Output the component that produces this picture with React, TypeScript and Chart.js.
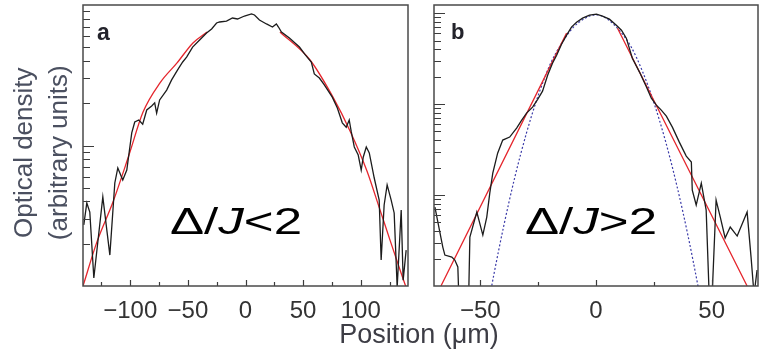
import React, { useEffect, useRef } from 'react';
import { Chart, registerables } from 'chart.js';

Chart.register(...registerables);

// ---------- Panel a ----------
const xTicksA = [-125, -100, -75, -50, -25, 0, 25, 50, 75, 100, 125];
const xTickLabelsA = ['', '−100', '', '−50', '', '0', '', '50', '', '100', ''];
const yTicksA = [0.1, 0.2, 0.3, 0.4, 0.5, 0.6, 0.7, 0.8, 0.9, 1, 2, 3, 4, 5, 6, 7, 8, 9, 10];

const posA = [-140.3, -137.7, -135.1, -131.6, -123.8, -117.7, -113.4, -110.8, -106.5, -103.0, -98.7, -96.1, -92.6, -89.2, -85.7, -81.4, -78.8, -77.1, -74.5, -68.4, -64.1, -58.9, -54.5, -51.1, -45.9, -39.8, -33.8, -29.4, -25.1, -22.5, -16.5, -11.3, -6.9, -0.9, 5.2, 7.8, 12.1, 18.2, 23.4, 26.8, 28.6, 31.2, 38.1, 46.8, 51.9, 57.1, 59.7, 64.1, 68.4, 75.3, 79.7, 84.0, 87.4, 90.0, 91.8, 94.4, 97.8, 100.4, 102.2, 104.8, 107.4, 111.7, 116.0, 117.7, 120.3, 122.9, 126.4, 129.0, 131.6, 134.2, 135.1, 136.8, 139.4];
const odA = [0.272, 0.390, 0.336, 0.114, 0.430, 0.166, 0.541, 0.692, 0.568, 0.669, 1.23, 1.47, 1.52, 1.42, 1.79, 1.91, 2.01, 1.70, 2.11, 2.48, 2.93, 3.45, 3.93, 4.26, 5.02, 5.64, 6.32, 6.75, 7.45, 7.57, 7.69, 8.08, 7.95, 8.35, 8.63, 8.49, 7.82, 7.33, 6.97, 7.33, 6.97, 6.42, 5.82, 5.02, 4.41, 3.93, 3.23, 3.02, 2.70, 2.21, 1.85, 1.45, 1.35, 1.52, 1.25, 0.976, 0.855, 0.669, 0.828, 0.976, 0.885, 0.587, 0.409, 0.153, 0.377, 0.524, 0.409, 0.331, 0.098, 0.250, 0.347, 0.110, 0.180];

const fitPosA = [-141.0, -128.9, -115.0, -101.1, -88.9, -74.2, -59.4, -45.6, -33.4, 0, 29.9, 56.0, 75.9, 90.7, 105.4, 116.7, 125.4, 134.1, 139.3];
const fitOdA = [0.100, 0.206, 0.396, 0.856, 1.73, 2.79, 3.87, 5.37, 6.42, null, 6.42, 4.06, 2.21, 1.27, 0.659, 0.348, 0.212, 0.130, 0.098];

// ---------- Panel b ----------
const xTicksB = [-50, -25, 0, 25, 50];
const xTickLabelsB = ['−50', '', '0', '', '50'];
const yTicksB = [0.1, 0.2, 0.3, 0.4, 0.5, 0.6, 0.7, 0.8, 0.9, 1, 2, 3, 4, 5, 6, 7, 8, 9, 10, 20, 30, 40, 50, 60, 70, 80, 90, 100];

const posB = [-69.6, -66.2, -65.3, -62.3, -61.0, -59.7, -59.3, -55.0, -54.5, -51.5, -48.9, -47.2, -45.9, -44.6, -42.5, -40.3, -37.3, -34.3, -32.1, -30.0, -27.4, -25.2, -23.1, -20.9, -18.8, -17.0, -14.9, -12.7, -10.6, -8.4, -5.8, -2.8, 0.2, 2.8, 5.8, 8.8, 11.0, 13.1, 15.7, 18.8, 21.8, 23.9, 26.1, 28.2, 30.4, 33.0, 36.0, 39.0, 41.2, 41.6, 43.3, 45.5, 47.6, 48.9, 50.2, 51.9, 53.7, 55.8, 58.0, 61.0, 65.3, 67.0, 68.3, 69.6];
const odB = [0.738, 0.268, 0.219, 0.208, 0.193, 0.162, 0.08, 0.08, 0.345, 0.650, 0.363, 0.573, 1.05, 1.74, 2.89, 4.02, 4.34, 5.45, 6.67, 7.96, 9.27, 11.3, 13.9, 20.8, 28.2, 34.5, 45.6, 57.3, 70.2, 79.6, 88.1, 95.0, 97.5, 92.7, 85.9, 73.8, 65.0, 53.1, 32.0, 22.5, 15.4, 11.6, 9.75, 8.59, 7.38, 5.58, 3.82, 2.68, 2.31, 1.13, 0.777, 1.35, 0.684, 0.08, 0.08, 0.881, 0.573, 0.337, 0.445, 0.354, 0.650, 0.208, 0.08, 0.150];

const expPosB = [-67.0, -12.7, 0, 9.3, 65.3];
const expOdB = [0.1, 60.3, null, 68.4, 0.1];

const gaussPosB = [-46, -44, -40, -35, -30, -25, -20, -15, -10, -5, 0, 5, 10, 15, 20, 25, 30, 35, 40, 44, 46];
const gaussOdB = [0.0748, 0.139, 0.441, 1.60, 4.85, 12.4, 26.7, 46.0, 69.0, 87.0, 96.0, 86.0, 65.0, 43.4, 23.2, 10.4, 3.94, 1.25, 0.334, 0.102, 0.054];

const FONT = "'Liberation Sans', Arial, Helvetica, sans-serif";

const pts = (xs: number[], ys: (number | null)[]) => xs.map((x, i) => ({ x, y: ys[i] }));

const isDecade = (v: number) => {
  const l = Math.log10(v);
  return Math.abs(l - Math.round(l)) < 1e-6;
};

const framePlugin = {
  id: 'frameTicks',
  afterDatasetsDraw(chart: any) {
    const { ctx, chartArea } = chart;
    const { left, right, top, bottom } = chartArea;
    const xs = chart.scales.x;
    const ys = chart.scales.y;
    const labels: string[] = chart.options.plugins.frameTicks.labels;
    ctx.save();
    ctx.strokeStyle = '#3c3c3c';
    ctx.lineWidth = 1.2;
    ctx.beginPath();
    ys.ticks.forEach((t: any) => {
      if (t.value <= ys.min + 1e-9 || t.value >= ys.max - 1e-9) return;
      const p = Math.round(ys.getPixelForValue(t.value)) + 0.5;
      const len = isDecade(t.value) ? 11 : 7;
      ctx.moveTo(left, p);
      ctx.lineTo(left + len, p);
    });
    xs.ticks.forEach((t: any, i: number) => {
      const p = Math.round(xs.getPixelForValue(t.value)) + 0.5;
      const len = labels[i] ? 6 : 4;
      ctx.moveTo(p, bottom);
      ctx.lineTo(p, bottom - len);
    });
    ctx.stroke();
    ctx.strokeStyle = '#4a4a4a';
    ctx.lineWidth = 1.5;
    ctx.strokeRect(left, top, right - left, bottom - top);
    ctx.restore();
  },
};

function makeConfig(opts: any) {
  return {
    type: 'line',
    data: { datasets: opts.datasets },
    options: {
      responsive: false,
      animation: false,
      events: [],
      layout: { padding: opts.padding },
      elements: { point: { radius: 0 } },
      plugins: {
        legend: { display: false },
        tooltip: { enabled: false },
        frameTicks: { labels: opts.xLabels },
      },
      scales: {
        x: {
          type: 'linear',
          min: opts.xMin,
          max: opts.xMax,
          afterBuildTicks: (s: any) => {
            s.ticks = opts.xTicks.map((v: number) => ({ value: v }));
          },
          ticks: {
            autoSkip: false,
            maxRotation: 0,
            padding: 10,
            color: '#333333',
            font: { family: FONT, size: 24, lineHeight: '30px' },
            callback: (_v: any, i: number) => opts.xLabels[i],
          },
          grid: { display: false, drawTicks: false },
          border: { display: false },
        },
        y: {
          type: 'logarithmic',
          min: opts.yMin,
          max: opts.yMax,
          afterBuildTicks: (s: any) => {
            s.ticks = opts.yTicks.map((v: number) => ({ value: v }));
          },
          ticks: { display: false },
          grid: { display: false, drawTicks: false },
          border: { display: false },
          title: opts.yTitle
            ? {
                display: true,
                text: ['Optical density  ', '(arbitrary units)  '],
                color: '#4b5060',
                font: { family: FONT, size: 26, lineHeight: '35px' },
                padding: { top: 7, bottom: 6 },
              }
            : { display: false },
        },
      },
    },
    plugins: [framePlugin],
  };
}

export default function App() {
  const refA = useRef<HTMLCanvasElement>(null);
  const refB = useRef<HTMLCanvasElement>(null);

  useEffect(() => {
    const chartA = new Chart(
      refA.current as HTMLCanvasElement,
      makeConfig({
        padding: { left: 0, top: 5, right: 12, bottom: 18 },
        xMin: -141,
        xMax: 141,
        yMin: 0.1,
        yMax: 10,
        xTicks: xTicksA,
        xLabels: xTickLabelsA,
        yTicks: yTicksA,
        yTitle: true,
        datasets: [
          { data: pts(posA, odA), borderColor: '#1c1c1c', borderWidth: 1.3, tension: 0, spanGaps: false },
          { data: pts(fitPosA, fitOdA), borderColor: '#e5262d', borderWidth: 1.3, cubicInterpolationMode: 'monotone', spanGaps: false },
        ],
      }) as any
    );
    const chartB = new Chart(
      refB.current as HTMLCanvasElement,
      makeConfig({
        padding: { left: 14, top: 5, right: 3, bottom: 18 },
        xMin: -70,
        xMax: 70,
        yMin: 0.1,
        yMax: 123,
        xTicks: xTicksB,
        xLabels: xTickLabelsB,
        yTicks: yTicksB,
        yTitle: false,
        datasets: [
          { data: pts(posB, odB), borderColor: '#1c1c1c', borderWidth: 1.3, tension: 0, spanGaps: false },
          { data: pts(expPosB, expOdB), borderColor: '#e5262d', borderWidth: 1.3, tension: 0, spanGaps: false },
          { data: pts(gaussPosB, gaussOdB), borderColor: '#3a3aa8', borderWidth: 1.2, borderDash: [2, 2], cubicInterpolationMode: 'monotone', spanGaps: false },
        ],
      }) as any
    );
    return () => {
      chartA.destroy();
      chartB.destroy();
    };
  }, []);

  const bigText: React.CSSProperties = {
    position: 'absolute',
    top: 203,
    fontFamily: FONT,
    fontSize: 37,
    lineHeight: '37px',
    color: '#000',
    whiteSpace: 'nowrap',
    transform: 'scaleX(1.38)',
    transformOrigin: 'left top',
  };

  return (
    <div style={{ position: 'fixed', left: 0, top: 0, width: 761, height: 354, background: '#fff', overflow: 'hidden' }}>
      <canvas ref={refA} width={420} height={354} style={{ position: 'absolute', left: 0, top: 0 }} />
      <canvas ref={refB} width={341} height={354} style={{ position: 'absolute', left: 420, top: 0 }} />
      <div style={{ position: 'absolute', left: 97, top: 20.5, fontFamily: FONT, fontWeight: 'bold', fontSize: 23, lineHeight: '23px', color: '#23232b' }}>a</div>
      <div style={{ position: 'absolute', left: 451, top: 21.4, fontFamily: FONT, fontWeight: 'bold', fontSize: 22, lineHeight: '22px', color: '#23232b' }}>b</div>
      <div style={{ ...bigText, left: 170 }}>
        Δ/<i>J</i>&lt;2
      </div>
      <div style={{ ...bigText, left: 525 }}>
        Δ/<i>J</i>&gt;2
      </div>
      <div style={{ position: 'absolute', left: 319, width: 200, top: 321, textAlign: 'center', fontFamily: FONT, fontSize: 27, lineHeight: '27px', color: '#3d3d45', whiteSpace: 'nowrap' }}>
        Position (μm)
      </div>
    </div>
  );
}
